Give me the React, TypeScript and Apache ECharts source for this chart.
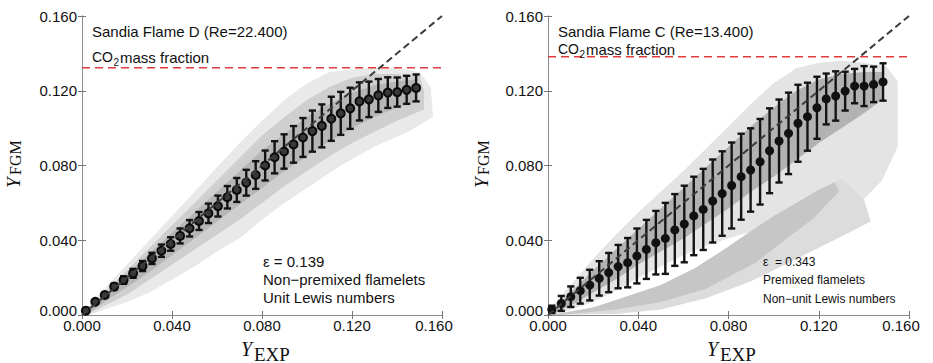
import React, { useEffect, useRef } from "react";
import * as echarts from "echarts";

// ---------- data ----------
const xTicks = [0, 0.04, 0.08, 0.12, 0.16];

const binX = [
  0.0017, 0.0059, 0.0101, 0.0143, 0.0185, 0.0227, 0.0269, 0.0311, 0.0353, 0.0394,
  0.0436, 0.0478, 0.052, 0.0562, 0.0604, 0.0646, 0.0688, 0.073, 0.0772, 0.0814,
  0.0856, 0.0898, 0.094, 0.0982, 0.1024, 0.1066, 0.1108, 0.115, 0.1192, 0.1233,
  0.1275, 0.1317, 0.1359, 0.1401, 0.1443, 0.1485,
];

const flameDMean = [
  0.0023, 0.0071, 0.0107, 0.0152, 0.0187, 0.0223, 0.0262, 0.0303, 0.0344, 0.038,
  0.0423, 0.0464, 0.0503, 0.0544, 0.0583, 0.063, 0.0669, 0.0708, 0.0749, 0.08,
  0.0844, 0.0875, 0.0913, 0.095, 0.0984, 0.1012, 0.105, 0.1079, 0.1106, 0.1143,
  0.1154, 0.1175, 0.119, 0.1193, 0.1205, 0.1215,
];
const flameDErr = [
  0.0008, 0.001, 0.0013, 0.0016, 0.002, 0.0024, 0.0027, 0.003, 0.0033, 0.0036,
  0.004, 0.0044, 0.0048, 0.0052, 0.0056, 0.006, 0.0064, 0.0069, 0.0074, 0.008,
  0.0086, 0.0092, 0.0098, 0.0104, 0.011, 0.0115, 0.0118, 0.0115, 0.011, 0.0102,
  0.0095, 0.0088, 0.0082, 0.0078, 0.0075, 0.0072,
];

const flameCMean = [
  0.003, 0.0062, 0.0098, 0.013, 0.016, 0.0196, 0.0227, 0.0259, 0.028, 0.0316,
  0.0351, 0.0387, 0.041, 0.0455, 0.0487, 0.053, 0.0565, 0.061, 0.065, 0.0693,
  0.074, 0.0776, 0.082, 0.0879, 0.0931, 0.0972, 0.1026, 0.1061, 0.1109, 0.1156,
  0.1172, 0.1198, 0.1225, 0.1225, 0.1234, 0.1247,
];
const flameCErr = [
  0.002, 0.004, 0.0055, 0.0069, 0.0082, 0.0092, 0.0105, 0.0116, 0.0132, 0.0147,
  0.0158, 0.017, 0.019, 0.0192, 0.0205, 0.021, 0.0217, 0.0222, 0.0226, 0.023,
  0.023, 0.0223, 0.0229, 0.0227, 0.0222, 0.0218, 0.0206, 0.0182, 0.0166, 0.0136,
  0.0132, 0.0104, 0.0092, 0.0107, 0.0095, 0.01,
];

const flameDLimit = 0.1323;
const flameCLimit = 0.1382;
const diagonal = [[0, 0], [0.16, 0.16]];

// scatter clouds summarised as density outlines [Y_EXP, Y_FGM]
const flameDCloudOuter = [
  [0, 0.001], [0.01, 0.014], [0.02, 0.027], [0.03, 0.04], [0.04, 0.053], [0.05, 0.066],
  [0.06, 0.079], [0.07, 0.092], [0.08, 0.104], [0.09, 0.115], [0.1, 0.124], [0.11, 0.13],
  [0.125, 0.132], [0.14, 0.132], [0.15, 0.13], [0.155, 0.122],
  [0.156, 0.106], [0.145, 0.098], [0.13, 0.09], [0.115, 0.08], [0.1, 0.068], [0.09, 0.06],
  [0.08, 0.051], [0.07, 0.041], [0.06, 0.034], [0.05, 0.026], [0.04, 0.019], [0.03, 0.012],
  [0.02, 0.007], [0.01, 0.003], [0.003, 0],
];
const flameDCloudMid = [
  [0, 0.001], [0.01, 0.012], [0.02, 0.024], [0.03, 0.036], [0.04, 0.048], [0.05, 0.06],
  [0.06, 0.072], [0.07, 0.084], [0.08, 0.096], [0.09, 0.106], [0.1, 0.115], [0.11, 0.122],
  [0.12, 0.127], [0.13, 0.129], [0.14, 0.129], [0.15, 0.128], [0.152, 0.12],
  [0.152, 0.11], [0.14, 0.104], [0.13, 0.098], [0.12, 0.092], [0.11, 0.085], [0.1, 0.077],
  [0.09, 0.069], [0.08, 0.06], [0.07, 0.051], [0.06, 0.043], [0.05, 0.035], [0.04, 0.027],
  [0.03, 0.019], [0.02, 0.011], [0.01, 0.005], [0.002, 0],
];
const flameDCloudCore = [
  [0.003, 0.004], [0.01, 0.011], [0.02, 0.022], [0.03, 0.033], [0.04, 0.044], [0.05, 0.055],
  [0.06, 0.066], [0.07, 0.077], [0.08, 0.088], [0.09, 0.097], [0.1, 0.106], [0.11, 0.113],
  [0.12, 0.119], [0.13, 0.123], [0.14, 0.125], [0.148, 0.126],
  [0.148, 0.114], [0.14, 0.111], [0.13, 0.106], [0.12, 0.1], [0.11, 0.093], [0.1, 0.085],
  [0.09, 0.077], [0.08, 0.068], [0.07, 0.059], [0.06, 0.05], [0.05, 0.041], [0.04, 0.032],
  [0.03, 0.023], [0.02, 0.015], [0.01, 0.007], [0.003, 0.001],
];

const flameCCloudOuter = [
  [0, 0.002], [0.01, 0.016], [0.02, 0.03], [0.03, 0.043], [0.04, 0.055], [0.05, 0.066],
  [0.06, 0.077], [0.07, 0.089], [0.08, 0.101], [0.09, 0.113], [0.1, 0.124], [0.11, 0.132],
  [0.12, 0.135], [0.13, 0.136], [0.14, 0.135], [0.15, 0.133], [0.155, 0.125],
  [0.155, 0.09], [0.148, 0.072], [0.14, 0.062], [0.128, 0.058], [0.115, 0.052], [0.1, 0.047],
  [0.085, 0.043], [0.07, 0.037], [0.06, 0.032], [0.05, 0.026], [0.04, 0.02], [0.03, 0.013],
  [0.02, 0.007], [0.01, 0.003], [0.003, 0],
];
const flameCCloudCore = [
  [0.002, 0.003], [0.01, 0.012], [0.02, 0.024], [0.03, 0.035], [0.04, 0.046], [0.05, 0.057],
  [0.06, 0.068], [0.07, 0.079], [0.08, 0.09], [0.09, 0.101], [0.1, 0.111], [0.11, 0.12],
  [0.12, 0.126], [0.13, 0.129], [0.14, 0.13], [0.148, 0.13],
  [0.148, 0.115], [0.14, 0.108], [0.13, 0.1], [0.12, 0.092], [0.11, 0.083], [0.1, 0.074],
  [0.09, 0.066], [0.08, 0.057], [0.07, 0.049], [0.06, 0.041], [0.05, 0.034], [0.04, 0.027],
  [0.03, 0.019], [0.02, 0.012], [0.01, 0.005], [0.003, 0.001],
];
const flameCBranchOuter = [
  [0, 0], [0.03, 0.006], [0.05, 0.015], [0.065, 0.024], [0.08, 0.036], [0.1, 0.053],
  [0.115, 0.062], [0.13, 0.073], [0.14, 0.062], [0.143, 0.05], [0.13, 0.042], [0.11, 0.03],
  [0.09, 0.018], [0.07, 0.009], [0.05, 0.003], [0.03, 0.0005],
];
const flameCBranchCore = [
  [0.002, 0], [0.02, 0.004], [0.035, 0.01], [0.05, 0.016], [0.065, 0.025], [0.078, 0.035],
  [0.09, 0.045], [0.1, 0.053], [0.11, 0.06], [0.12, 0.067], [0.127, 0.071],
  [0.129, 0.066], [0.124, 0.06], [0.118, 0.052], [0.107, 0.042], [0.092, 0.028],
  [0.07, 0.014], [0.05, 0.007], [0.03, 0.003], [0.01, 0.0005],
];

// ---------- helpers ----------
const SANS = '"Liberation Sans", Arial, sans-serif';
const SERIF = '"Liberation Serif", "Times New Roman", serif';

function polygonSeries(idx: number, pts: number[][], color: string) {
  return {
    type: "custom",
    xAxisIndex: idx,
    yAxisIndex: idx,
    silent: true,
    clip: true,
    data: [[0, 0]],
    renderItem: (_p: any, api: any) => ({
      type: "polygon",
      shape: { points: pts.map((p) => api.coord(p)) },
      style: { fill: color },
    }),
  };
}

function errorBarSeries(idx: number, mean: number[], err: number[]) {
  return {
    type: "custom",
    xAxisIndex: idx,
    yAxisIndex: idx,
    silent: true,
    data: binX.map((x, i) => [x, mean[i] - err[i], mean[i] + err[i]]),
    encode: { x: 0, y: [1, 2] },
    renderItem: (_p: any, api: any) => {
      const x = api.value(0);
      const lo = api.coord([x, api.value(1)]);
      const hi = api.coord([x, api.value(2)]);
      const w = 3.6;
      const style = { stroke: "#141414", lineWidth: 2.4 };
      return {
        type: "group",
        children: [
          { type: "line", shape: { x1: lo[0], y1: lo[1], x2: hi[0], y2: hi[1] }, style },
          { type: "line", shape: { x1: lo[0] - w, y1: lo[1], x2: lo[0] + w, y2: lo[1] }, style },
          { type: "line", shape: { x1: hi[0] - w, y1: hi[1], x2: hi[0] + w, y2: hi[1] }, style },
        ],
      };
    },
  };
}

function lineSeries(idx: number, data: number[][], color: string, width: number, dash: number[]) {
  return {
    type: "line",
    xAxisIndex: idx,
    yAxisIndex: idx,
    silent: true,
    symbol: "none",
    data,
    lineStyle: { color, width, type: dash },
  };
}

const fmtX = (v: number) => {
  const s = v.toFixed(3);
  return Math.abs(v - 0.16) < 1e-9 ? "{l|" + s + "}" : s;
};
const fmtY = (v: number) => {
  const s = v.toFixed(3);
  return Math.abs(v) < 1e-9 ? "{z|" + s + "}" : s;
};

function bottomAxis(gridIndex: number) {
  return {
    type: "value",
    gridIndex,
    position: "bottom",
    min: xTicks[0],
    max: xTicks[xTicks.length - 1],
    interval: xTicks[1] - xTicks[0],
    axisLine: { show: true, lineStyle: { color: "#8c8c8c", width: 1 } },
    axisTick: { show: true, inside: true, length: 4, lineStyle: { color: "#777" } },
    splitLine: { show: false },
    axisLabel: {
      show: true,
      margin: 3,
      color: "#111",
      fontSize: 15,
      fontFamily: SANS,
      showMinLabel: true,
      showMaxLabel: true,
      formatter: fmtX,
      rich: { l: { fontSize: 15, fontFamily: SANS, color: "#111", padding: [0, 16, 0, 0] } },
    },
  };
}
function leftAxis(gridIndex: number) {
  return {
    type: "value",
    gridIndex,
    position: "left",
    min: xTicks[0],
    max: xTicks[xTicks.length - 1],
    interval: xTicks[1] - xTicks[0],
    axisLine: { show: true, lineStyle: { color: "#8c8c8c", width: 1 } },
    axisTick: { show: true, inside: true, length: 4, lineStyle: { color: "#777" } },
    splitLine: { show: false },
    axisLabel: {
      show: true,
      margin: 5,
      color: "#111",
      fontSize: 15,
      fontFamily: SANS,
      showMinLabel: true,
      showMaxLabel: true,
      formatter: fmtY,
      rich: { z: { fontSize: 15, fontFamily: SANS, color: "#111", padding: [0, 0, 10, 0] } },
    },
  };
}
function frameAxis(gridIndex: number, position: string) {
  return {
    type: "value",
    gridIndex,
    position,
    min: xTicks[0],
    max: xTicks[xTicks.length - 1],
    interval: xTicks[1] - xTicks[0],
    axisLine: { show: true, lineStyle: { color: "#8c8c8c", width: 1 } },
    axisTick: { show: true, inside: true, length: 4, lineStyle: { color: "#777" } },
    splitLine: { show: false },
    axisLabel: { show: false },
  };
}

function txt(text: string, x: number, y: number, size: number, family = SANS, extra: any = {}) {
  return {
    type: "text",
    x,
    y,
    z: 100,
    silent: true,
    style: {
      text,
      fill: "#111",
      fontSize: size,
      fontFamily: family,
      align: "left",
      verticalAlign: "middle",
      ...extra,
    },
  };
}

function yLabel(x: number, y: number, sub: string) {
  return {
    type: "group",
    x,
    y,
    z: 100,
    rotation: Math.PI / 2,
    silent: true,
    children: [
      txt("Y", 0, 0, 19, SERIF, { fontStyle: "italic" }),
      txt(sub, 13, 2.5, 16, SERIF),
    ],
  };
}
function xLabel(x: number, y: number, sub: string) {
  return {
    type: "group",
    x,
    y,
    z: 100,
    silent: true,
    children: [
      txt("Y", 0, 0, 20, SERIF, { fontStyle: "italic" }),
      txt(sub, 13, 5, 19, SERIF),
    ],
  };
}

export default function App() {
  const ref = useRef<HTMLDivElement>(null);
  useEffect(() => {
    if (!ref.current) return;
    const chart = echarts.init(ref.current, null, { renderer: "svg" });
    const option: any = {
      animation: false,
      backgroundColor: "#ffffff",
      grid: [
        { left: 82, top: 16, width: 360, height: 299 },
        { left: 548, top: 16, width: 361, height: 299 },
      ],
      xAxis: [bottomAxis(0), bottomAxis(1), frameAxis(0, "top"), frameAxis(1, "top")],
      yAxis: [leftAxis(0), leftAxis(1), frameAxis(0, "right"), frameAxis(1, "right")],
      series: [
        polygonSeries(0, flameDCloudOuter, "#e9e9e9"),
        polygonSeries(0, flameDCloudMid, "#cfcfcf"),
        polygonSeries(0, flameDCloudCore, "#b6b6b6"),
        lineSeries(0, diagonal, "#3c3c3c", 2, [7, 4]),
        lineSeries(0, [[0, flameDLimit], [0.16, flameDLimit]], "#e23b3b", 1.5, [8, 5]),
        errorBarSeries(0, flameDMean, flameDErr),
        {
          type: "scatter",
          xAxisIndex: 0,
          yAxisIndex: 0,
          silent: true,
          symbol: "circle",
          symbolSize: 8,
          data: binX.map((x, i) => [x, flameDMean[i]]),
          itemStyle: { color: "#383838", borderColor: "#0a0a0a", borderWidth: 2, opacity: 1 },
        },

        polygonSeries(1, flameCCloudOuter, "#e4e4e4"),
        polygonSeries(1, flameCBranchOuter, "#dcdcdc"),
        polygonSeries(1, flameCBranchCore, "#c6c6c6"),
        polygonSeries(1, flameCCloudCore, "#b2b2b2"),
        lineSeries(1, diagonal, "#3c3c3c", 2, [7, 4]),
        lineSeries(1, [[0, flameCLimit], [0.16, flameCLimit]], "#e23b3b", 1.5, [8, 5]),
        errorBarSeries(1, flameCMean, flameCErr),
        {
          type: "scatter",
          xAxisIndex: 1,
          yAxisIndex: 1,
          silent: true,
          symbol: "circle",
          symbolSize: 9,
          data: binX.map((x, i) => [x, flameCMean[i]]),
          itemStyle: { color: "#111111", opacity: 1 },
        },
      ],
      graphic: [
        txt("Sandia Flame D (Re=22.400)", 92, 31, 15),
        txt("CO", 92, 57, 14),
        txt("2", 113.5, 62, 10),
        txt("mass fraction", 120, 57, 15),
        txt("ε = 0.139", 263, 261, 15),
        txt("Non−premixed flamelets", 263, 279, 15),
        txt("Unit Lewis numbers", 263, 297.5, 15),

        txt("Sandia Flame C (Re=13.400)", 558, 31, 15),
        txt("CO", 558, 49, 14),
        txt("2", 579.5, 54, 10),
        txt("mass fraction", 586, 49, 15),
        txt("ε  = 0.343", 763, 262, 12),
        txt("Premixed flamelets", 763, 279.5, 12),
        txt("Non−unit Lewis numbers", 763, 298.5, 12),

        yLabel(13, 188, "FGM"),
        yLabel(481, 188, "FGM"),
        xLabel(241, 349, "EXP"),
        xLabel(707, 349, "EXP"),
      ],
    };
    chart.setOption(option);
    return () => chart.dispose();
  }, []);
  return (
    <div
      ref={ref}
      style={{ position: "fixed", left: 0, top: 0, width: 933, height: 363, background: "#fff" }}
    />
  );
}
